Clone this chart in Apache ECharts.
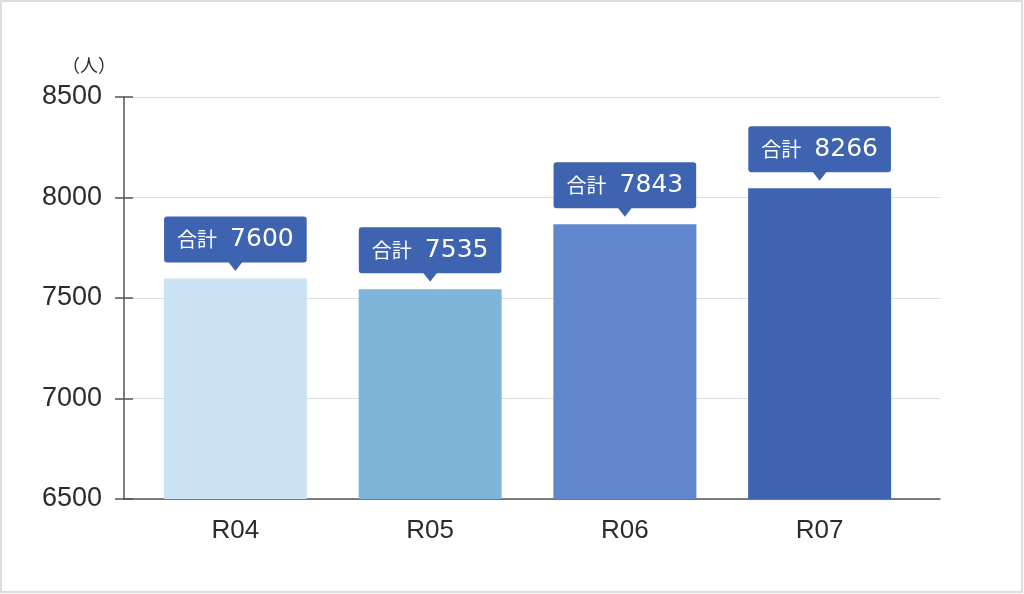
<!DOCTYPE html>
<html lang="ja" style="height: 100%">
<head>
  <meta charset="utf-8">
</head>
<body style="height: 100%; margin: 0; background: #fff">
  <div id="container" style="width: 1024px; height: 594px"></div>

  <script type="text/javascript" src="https://cdn.jsdelivr.net/npm/echarts@6/dist/echarts.min.js"></script>

  <script type="text/javascript">
    var dom = document.getElementById('container');
    var myChart = echarts.init(dom, null, { renderer: 'canvas' });

    // data
    const years = ['R04', 'R05', 'R06', 'R07'];
    const barValues = [7597, 7544, 7867, 8046];   // bar heights
    const totals = [7600, 7535, 7843, 8266];      // numbers in the callouts
    const barColors = ['#c9e3f4', '#7fb5d9', '#6086cd', '#3d63b1'];
    const yTicks = { min: 6500, max: 8500, step: 500 };

    const boxColor = '#3d63b1';
    const latinFont = '"Liberation Sans", Arial, sans-serif';

    var option = {
      animation: false,
      grid: [
        { left: 124, right: 84, top: 97, bottom: 95 },
        { left: 138, right: 107, top: 97, bottom: 95 }
      ],
      xAxis: [
        {
          gridIndex: 0,
          type: 'value',
          min: 0,
          max: 1,
          axisLine: { show: true, lineStyle: { color: '#555', width: 1.5 } },
          axisTick: { show: false },
          axisLabel: { show: false },
          splitLine: { show: false }
        },
        {
          gridIndex: 1,
          type: 'category',
          data: years,
          axisLine: { show: false },
          axisTick: { show: false },
          axisLabel: {
            fontSize: 26,
            color: '#2b2b2b',
            margin: 19,
            fontFamily: latinFont
          }
        }
      ],
      yAxis: [
        {
          gridIndex: 0,
          type: 'value',
          min: yTicks.min,
          max: yTicks.max,
          interval: yTicks.step,
          name: '（人）',
          nameLocation: 'end',
          nameGap: 23,
          nameTextStyle: {
            fontSize: 18,
            color: '#2b2b2b',
            align: 'right',
            padding: [0, 8, 0, 0],
            fontFamily: '"Noto Sans CJK JP", sans-serif'
          },
          axisLine: { show: true, lineStyle: { color: '#555', width: 1.5 } },
          axisTick: { show: true, length: 9, lineStyle: { color: '#555', width: 1.5 } },
          axisLabel: {
            fontSize: 27,
            color: '#2b2b2b',
            margin: 22,
            fontFamily: latinFont,
            formatter: function (v) { return String(v); }
          },
          splitLine: { show: true, lineStyle: { color: '#dcdcdc', width: 1 } }
        },
        {
          // inner half of the ticks
          gridIndex: 0,
          type: 'value',
          min: yTicks.min,
          max: yTicks.max,
          interval: yTicks.step,
          position: 'left',
          axisLine: { show: false },
          axisTick: { show: true, inside: true, length: 9, lineStyle: { color: '#555', width: 1.5 } },
          axisLabel: { show: false },
          splitLine: { show: false }
        },
        {
          gridIndex: 1,
          type: 'value',
          min: yTicks.min,
          max: yTicks.max,
          interval: yTicks.step,
          show: false
        }
      ],
      series: [
        {
          type: 'bar',
          xAxisIndex: 1,
          yAxisIndex: 2,
          barWidth: 143,
          data: barValues.map(function (v, i) {
            return { value: v, itemStyle: { color: barColors[i] } };
          }),
          label: {
            show: true,
            position: 'top',
            distance: 16,
            backgroundColor: boxColor,
            borderRadius: 3,
            padding: [11, 13, 11, 13],
            formatter: function (p) {
              return '{a|合計}{b|' + totals[p.dataIndex] + '}';
            },
            rich: {
              a: { fontSize: 20, color: '#fff', lineHeight: 24, fontFamily: '"Noto Sans CJK JP", sans-serif' },
              b: { fontSize: 25, color: '#fff', lineHeight: 24, padding: [0, 0, 0, 13], fontFamily: 'DejaVu Sans, sans-serif' }
            }
          },
          z: 2
        },
        {
          // callout pointers
          type: 'scatter',
          xAxisIndex: 1,
          yAxisIndex: 2,
          silent: true,
          symbol: 'triangle',
          symbolRotate: 180,
          symbolSize: [14, 9],
          symbolOffset: [0, -12],
          itemStyle: { color: boxColor, opacity: 1 },
          data: barValues,
          z: 3
        }
      ],
      graphic: [
        {
          type: 'rect',
          shape: { x: 1, y: 1, width: 1021, height: 591 },
          style: { fill: 'none', stroke: '#dcdcdc', lineWidth: 2 },
          silent: true
        }
      ]
    };

    myChart.setOption(option);
    window.addEventListener('resize', myChart.resize);
  </script>
</body>
</html>
